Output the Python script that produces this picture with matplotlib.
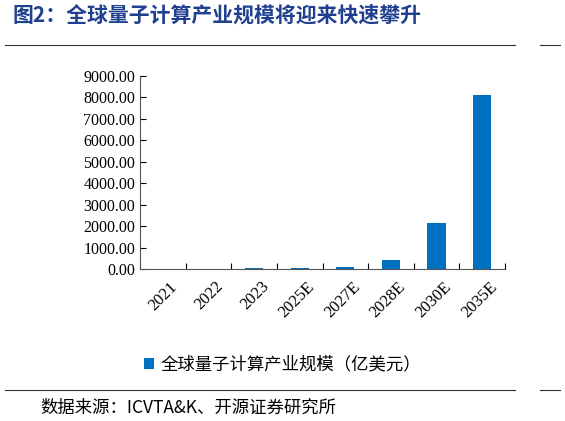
import matplotlib
matplotlib.use("Agg")
import matplotlib.pyplot as plt
from matplotlib.lines import Line2D

plt.rcParams['font.family'] = ['Noto Sans CJK SC', 'DejaVu Sans']
categories = ["2021", "2022", "2023", "2025E", "2027E", "2028E", "2030E", "2035E"]
values = [3, 6, 30, 40, 70, 420, 2140, 8100]
series_name = "全球量子计算产业规模（亿美元）"
W, H = 565, 421
fig = plt.figure(figsize=(W/100, H/100), dpi=100)
ax = fig.add_axes([140/W, 1-269/H, 365/W, 193/H])
ax.bar(categories, values, width=0.4, color="#0070C0", label=series_name)
ax.set_ylim(0, 9000)
ax.set_xlim(-0.5, len(categories)-0.5)
ax.set_yticks(range(0, 9001, 1000))
ax.set_yticklabels([f"{v:.2f}" for v in range(0, 9001, 1000)], family="Liberation Serif", fontsize=11.5)
ax.set_xticks([i-0.5 for i in range(len(categories)+1)], minor=False)
ax.set_xticklabels([""]*(len(categories)+1))
ax.tick_params(axis='x', direction='in', length=4)
ax.tick_params(axis='y', direction='in', length=4)
for i, c in enumerate(categories):
    ax.text(i+0.15, -0.05, c, transform=ax.get_xaxis_transform(), rotation=45, ha='right', va='top',
            rotation_mode='anchor', family="Liberation Serif", fontsize=12)
for s in ['top', 'right']:
    ax.spines[s].set_visible(False)
ax.spines['left'].set_color('#555555')
ax.spines['bottom'].set_color('#555555')
ax.legend(loc='upper center', bbox_to_anchor=(0.5, 1-340/H), bbox_transform=fig.transFigure,
          frameon=False, fontsize=12.5, handlelength=0.6, handleheight=0.6, handletextpad=0.4)
fig.text(12/W, 1-15/H, "图2：全球量子计算产业规模将迎来快速攀升", color="#1F3F8F", fontsize=15,
         fontweight='bold', va='center', ha='left')
for y in [45, 390]:
    fig.add_artist(Line2D([5/W, 515/W], [1-y/H]*2, color='#333333', lw=0.8))
    fig.add_artist(Line2D([540/W, 560/W], [1-y/H]*2, color='#333333', lw=0.8))
fig.text(40/W, 1-408/H, "数据来源：ICVTA&K、开源证券研究所", fontsize=12.5, va='center', ha='left')
fig.savefig("out.png", dpi=100)
